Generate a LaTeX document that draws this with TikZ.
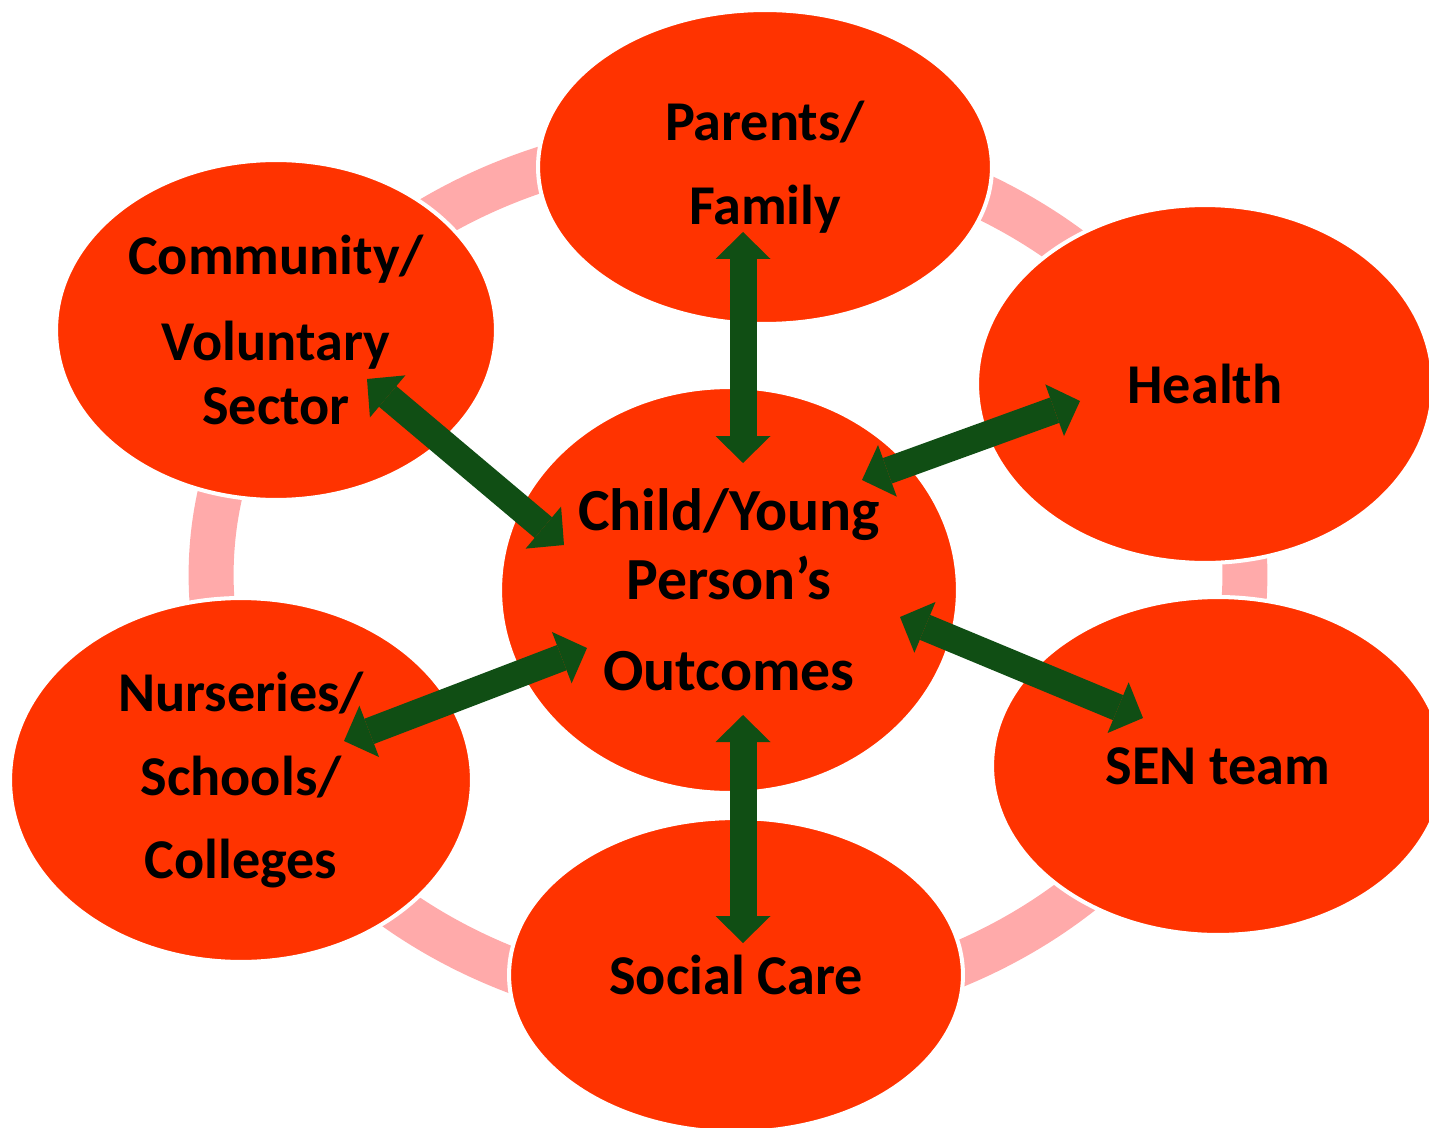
\documentclass[tikz,border=0pt]{standalone}
\usepackage{fontspec}
\setmainfont{Carlito}
\usepackage{xcolor}
\definecolor{Col1}{RGB}{255,51,0}
\definecolor{Col2}{RGB}{16,78,20}
\definecolor{Col3}{RGB}{255,170,170}
\usepackage{tikz}
\usetikzlibrary{shapes}
\usetikzlibrary{arrows.meta}
\tikzstyle{Blob}=[ellipse,fill=Col1,draw=white,line width=2.3pt,inner sep=0pt,
align=center,font=\fontsize{32}{36}\selectfont\bfseries]
\tikzstyle{BlobBig}=[Blob,font=\fontsize{34}{36}\selectfont\bfseries]
\tikzstyle{Ring}=[draw=Col3,line width=0.9cm]
\tikzstyle{Link}=[draw=Col2,line width=0.54cm,
{Triangle[width=1.1cm,length=0.54cm,line width=0pt]}-{Triangle[width=1.1cm,length=0.54cm,line width=0pt]}]

\begin{document}
\begin{tikzpicture}[x=0.02cm,y=-0.02cm]
        \useasboundingbox (0,0) rectangle (1429,1128);
        \clip (0,0) rectangle (1429,1128);
        \draw[Ring] (728,575) ellipse [x radius=10.34cm,y radius=8.7cm];
        \node[Blob,minimum width=9.08cm,minimum height=6.28cm](par)at(765,167){Parents/\\[12pt]Family};
        \node[Blob,minimum width=8.8cm,minimum height=6.8cm](com)at(276,330){Community/\\[13pt]Voluntary\\Sector};
        \node[Blob,minimum width=9.12cm,minimum height=7.16cm](hea)at(1205,384){Health};
        \node[BlobBig,minimum width=9.16cm,minimum height=8.12cm](kid)at(729,590){Child/Young\\[3pt]Person’s\\[16pt]Outcomes};
        \node[Blob,minimum width=9.24cm,minimum height=7.28cm](nur)at(241,780){Nurseries/\\[12pt]Schools/\\[11pt]Colleges};
        \node[Blob,minimum width=9.04cm,minimum height=6.76cm](sen)at(1218,766){SEN team};
        \node[Blob,minimum width=9.08cm,minimum height=6.28cm](soc)at(736,975){Social Care};
        \coordinate(par-a)at(743,232);
        \coordinate(kid-n)at(743,463);
        \coordinate(soc-a)at(743,943);
        \coordinate(kid-s)at(743,715);
        \coordinate(hea-a)at(1080,401);
        \coordinate(kid-ne)at(862,480);
        \coordinate(com-a)at(367,379);
        \coordinate(kid-nw)at(564,545);
        \coordinate(nur-a)at(344,741);
        \coordinate(kid-sw)at(587,648);
        \coordinate(sen-a)at(1143,718);
        \coordinate(kid-se)at(900,617);
        \draw[Link](par-a)--(kid-n);
        \draw[Link](kid-s)--(soc-a);
        \draw[Link](kid-ne)--(hea-a);
        \draw[Link](com-a)--(kid-nw);
        \draw[Link](nur-a)--(kid-sw);
        \draw[Link](kid-se)--(sen-a);
    \end{tikzpicture}
\end{document}
